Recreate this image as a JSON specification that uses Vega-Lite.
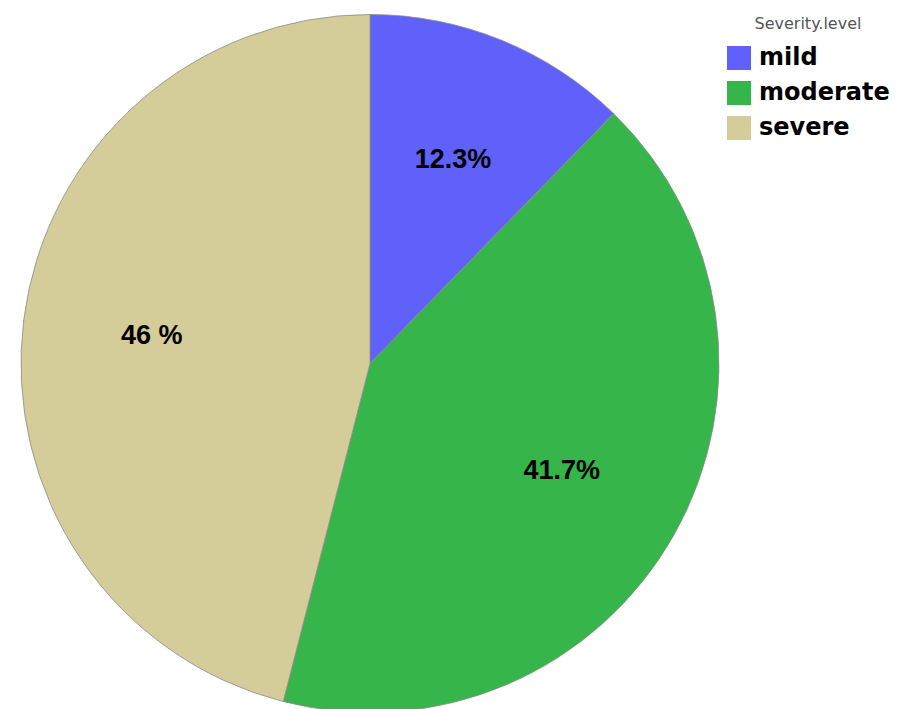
{
  "$schema": "https://vega.github.io/schema/vega-lite/v6.json",
  "width": 740,
  "height": 697,
  "padding": {"left": 0, "top": 12, "right": 0, "bottom": 0},
  "background": "white",
  "config": {"view": {"stroke": null}},
  "data": {
    "values": [
      {"level": "mild", "pct": 12.3, "label": "12.3%"},
      {"level": "moderate", "pct": 41.7, "label": "41.7%"},
      {"level": "severe", "pct": 46.0, "label": "46 %"}
    ]
  },
  "encoding": {
    "theta": {"field": "pct", "type": "quantitative", "stack": true},
    "order": {"field": "level", "type": "nominal", "sort": "ascending"}
  },
  "layer": [
    {
      "mark": {"type": "arc", "outerRadius": 349, "stroke": "#8c8c8c", "strokeWidth": 0.8},
      "encoding": {
        "color": {
          "field": "level",
          "type": "nominal",
          "scale": {"domain": ["mild", "moderate", "severe"], "range": ["#6060fa", "#35b54a", "#d4cd9a"]},
          "legend": {
            "orient": "none",
            "legendX": 727,
            "legendY": 1,
            "title": "Severity.level",
            "titleFont": "DejaVu Sans",
            "titleFontSize": 16,
            "titleFontWeight": "normal",
            "titleColor": "#555555",
            "titleAnchor": "middle",
            "titlePadding": 14,
            "labelFont": "DejaVu Sans",
            "labelFontSize": 24,
            "labelFontWeight": "bold",
            "labelColor": "#000000",
            "labelOffset": 8,
            "symbolType": "square",
            "symbolSize": 576,
            "symbolStrokeWidth": 0,
            "symbolOpacity": 1,
            "rowPadding": 11
          }
        }
      }
    },
    {
      "mark": {"type": "text", "radius": 220, "font": "Liberation Sans", "fontSize": 27, "fontWeight": "bold", "fill": "#000000"},
      "encoding": {"text": {"field": "label", "type": "nominal"}}
    }
  ]
}
